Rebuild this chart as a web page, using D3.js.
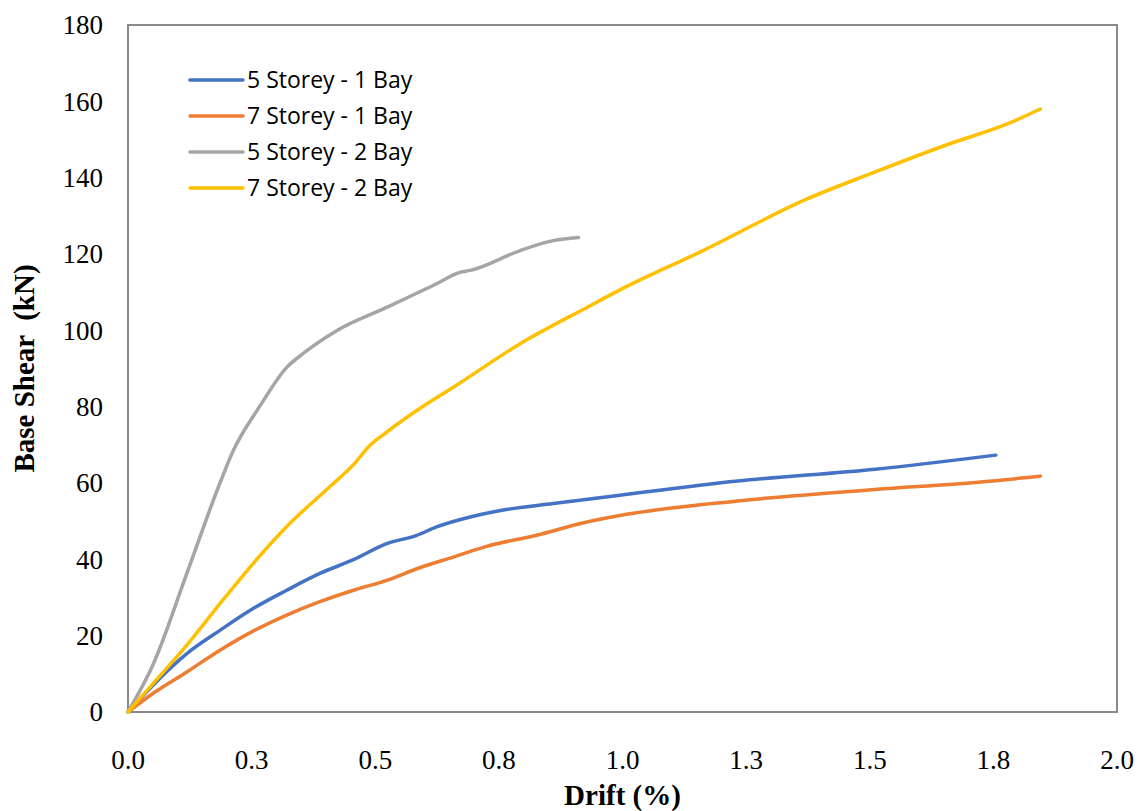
<!DOCTYPE html>
<html>
<head>
<meta charset="utf-8">
<script src="https://cdn.jsdelivr.net/npm/d3@7"></script>
<style>
  body { margin: 0; background: #fff; }
  svg { display: block; }
</style>
</head>
<body>
<div id="chart"></div>
<script>
// drift (%) vs base shear (kN)
const storey5bay1 = [
  [0, 0], [0.051, 7.1], [0.119, 15.3], [0.186, 21.4], [0.253, 27.1], [0.321, 31.9],
  [0.388, 36.3], [0.456, 39.9], [0.523, 44.1], [0.584, 46.3], [0.624, 48.5],
  [0.692, 51.1], [0.759, 52.9], [0.86, 54.6], [0.995, 56.8], [1.233, 60.5],
  [1.511, 63.6], [1.755, 67.3]
];
const storey7bay1 = [
  [0, 0], [0.051, 4.9], [0.119, 10.5], [0.186, 16.2], [0.253, 21.2], [0.321, 25.4],
  [0.388, 28.9], [0.456, 31.9], [0.523, 34.5], [0.59, 37.8], [0.658, 40.6],
  [0.725, 43.4], [0.826, 46.3], [0.928, 49.8], [0.995, 51.5], [1.233, 55.3],
  [1.511, 58.3], [1.719, 60.2], [1.845, 61.8]
];
const storey5bay2 = [
  [0, 0], [0.051, 12.5], [0.119, 36.3], [0.186, 60.0], [0.213, 68.5], [0.267, 80.2],
  [0.321, 90.3], [0.355, 94.0], [0.422, 99.9], [0.523, 106.0], [0.624, 112.2],
  [0.671, 115.2], [0.692, 115.7], [0.793, 120.9], [0.86, 123.5], [0.911, 124.3]
];
const storey7bay2 = [
  [0, 0], [0.051, 7.5], [0.119, 17.5], [0.186, 28.4], [0.253, 38.9], [0.321, 48.6],
  [0.408, 59.0], [0.456, 64.8], [0.489, 69.8], [0.523, 73.3], [0.59, 79.5],
  [0.658, 85.1], [0.793, 96.5], [0.928, 106.0], [0.995, 110.6], [1.163, 120.9],
  [1.371, 134.3], [1.511, 141.5], [1.649, 148.3], [1.788, 154.6], [1.845, 158.0]
];

const seriesNames = ['5 Storey - 1 Bay', '7 Storey - 1 Bay', '5 Storey - 2 Bay', '7 Storey - 2 Bay'];
const seriesColors = ['#4472C4', '#ED7D31', '#A5A5A5', '#FFC000'];
const xTicks = [0, 0.25, 0.5, 0.75, 1.0, 1.25, 1.5, 1.75, 2.0];
const yTicks = [0, 20, 40, 60, 80, 100, 120, 140, 160, 180];

const series = [storey5bay1, storey7bay1, storey5bay2, storey7bay2];

const width = 1138;
const height = 811;
const margin = { top: 25, right: 21, bottom: 99, left: 128 };

const svg = d3.select('#chart')
              .append('svg')
              .attr('width', width)
              .attr('height', height);

const x = d3.scaleLinear()
            .domain([0, 2])
            .range([margin.left, width - margin.right]);

const y = d3.scaleLinear()
            .domain([0, 180])
            .range([height - margin.bottom, margin.top]);

const axisColor = '#898989';
const serif = '"Liberation Serif", "Times New Roman", serif';

// plot frame
svg.append('rect')
   .attr('x', x(0))
   .attr('y', y(180))
   .attr('width', x(2) - x(0))
   .attr('height', y(0) - y(180))
   .attr('fill', 'none')
   .attr('stroke', axisColor)
   .attr('stroke-width', 2);

// tick labels
svg.append('g')
   .selectAll('text')
   .data(yTicks)
   .enter()
   .append('text')
   .text(d => d)
   .attr('x', x(0) - 25)
   .attr('y', d => y(d))
   .attr('dy', '0.35em')
   .attr('text-anchor', 'end')
   .attr('font-family', serif)
   .attr('font-size', 27)
   .attr('fill', '#000');

svg.append('g')
   .selectAll('text')
   .data(xTicks)
   .enter()
   .append('text')
   .text(d => d3.format('.1f')(d + 1e-9))
   .attr('x', d => x(d))
   .attr('y', y(0) + 57)
   .attr('text-anchor', 'middle')
   .attr('font-family', serif)
   .attr('font-size', 27)
   .attr('fill', '#000');

// axis titles
svg.append('text')
   .text('Drift (%)')
   .attr('x', (x(0) + x(2)) / 2)
   .attr('y', height - 6)
   .attr('text-anchor', 'middle')
   .attr('font-family', serif)
   .attr('font-weight', 'bold')
   .attr('font-size', 29)
   .attr('fill', '#000');

svg.append('text')
   .text('Base Shear  (kN)')
   .attr('transform', `translate(34, ${(y(0) + y(180)) / 2}) rotate(-90)`)
   .attr('text-anchor', 'middle')
   .style('white-space', 'pre')
   .attr('font-family', serif)
   .attr('font-weight', 'bold')
   .attr('font-size', 29)
   .attr('fill', '#000');

// curves
const line = d3.line()
               .x(d => x(d[0]))
               .y(d => y(d[1]))
               .curve(d3.curveMonotoneX);

svg.append('g')
   .selectAll('path')
   .data(series)
   .enter()
   .append('path')
   .attr('d', line)
   .attr('fill', 'none')
   .attr('stroke', (d, i) => seriesColors[i])
   .attr('stroke-width', 3.5)
   .attr('stroke-linecap', 'round')
   .attr('stroke-linejoin', 'round');

// legend
const legend = svg.append('g')
                  .attr('transform', 'translate(190, 80)');

const rows = legend.selectAll('g')
                   .data(seriesNames)
                   .enter()
                   .append('g')
                   .attr('transform', (d, i) => `translate(0, ${i * 36})`);

rows.append('line')
    .attr('x1', 0)
    .attr('x2', 53)
    .attr('y1', 0)
    .attr('y2', 0)
    .attr('stroke', (d, i) => seriesColors[i])
    .attr('stroke-width', 3.5)
    .attr('stroke-linecap', 'round');

rows.append('text')
    .text(d => d)
    .attr('x', 57)
    .attr('y', 0)
    .attr('dy', '0.36em')
    .attr('font-family', '"Open Sans", "Noto Sans", sans-serif')
    .attr('font-size', 23)
    .attr('fill', '#000');
</script>
</body>
</html>
